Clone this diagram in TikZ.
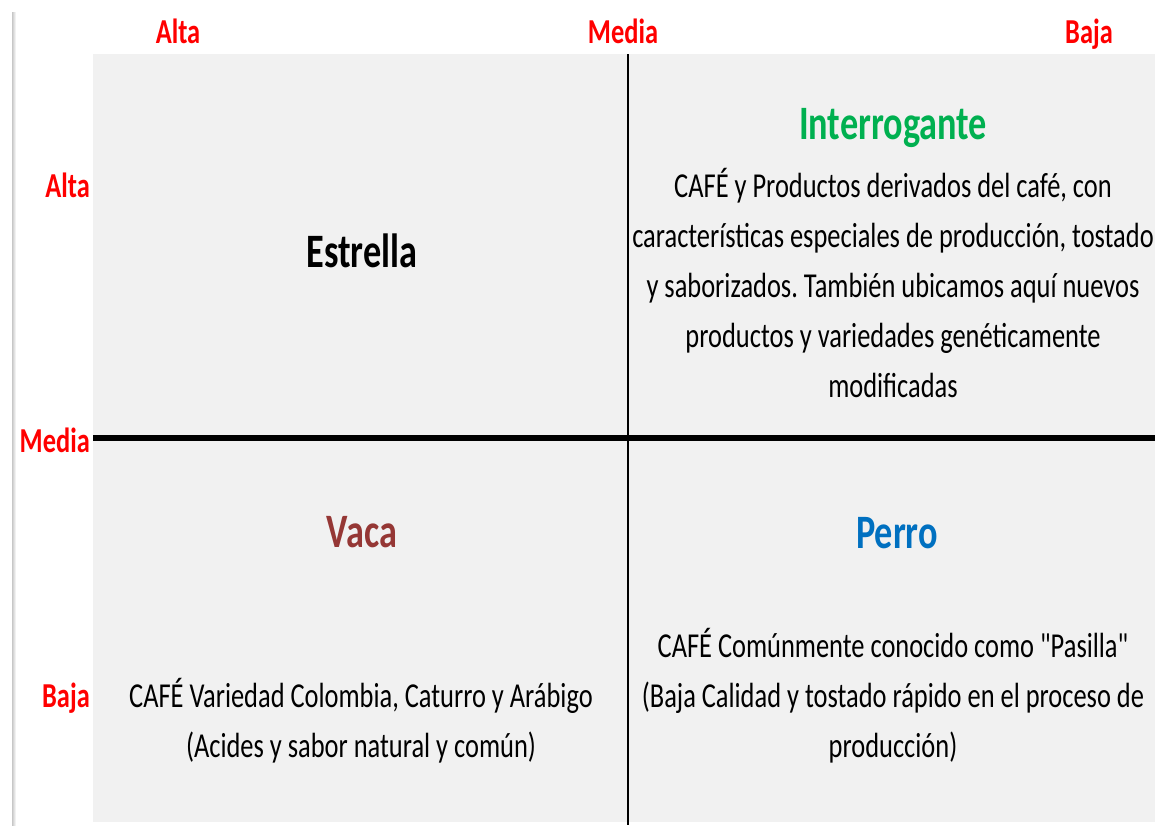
\documentclass[tikz,border=0pt]{standalone}
\usepackage{fontspec}
\setmainfont{Carlito}[FakeStretch=0.755]
\newfontfamily\plainqfont{Carlito}[FakeStretch=0.755]
\newcommand{\straightq}{{\plainqfont"}}
\frenchspacing
\definecolor{boxgray}{HTML}{F1F1F1}
\definecolor{lblred}{HTML}{FF0000}
\definecolor{intgreen}{HTML}{00B050}
\definecolor{vacared}{HTML}{953735}
\definecolor{perroblue}{HTML}{0070C0}
\tikzset{
  axislbl/.style={text=lblred, font=\fontsize{35}{40}\selectfont\bfseries, inner sep=0pt},
  quadtitle/.style={font=\fontsize{48}{55}\selectfont\bfseries, inner sep=0pt, anchor=base},
  bodyline/.style={font=\fontsize{35}{50}\selectfont, inner sep=0pt, anchor=base, text=black},
}
\begin{document}
\begin{tikzpicture}[x=1pt,y=-1pt]
\useasboundingbox (0,0) rectangle (1155,825);
\fill[white] (0,0) rectangle (1155,825);
% left shadow
\shade[left color=black!22, right color=white] (12,12) rectangle (16,825);
% background box
\fill[boxgray] (93,54) rectangle (1155,822);
% axes
\coordinate (vtop) at (628,54);
\coordinate (vbot) at (628,825);
\coordinate (hleft) at (93,438);
\coordinate (hright) at (1155,438);
\draw[line width=2.2pt] (vtop) -- (vbot);
\draw[line width=6pt] (hleft) -- (hright);
% top labels
\node[axislbl, anchor=base] (tAlta) at (178,43) {Alta};
\node[axislbl, anchor=base] (tMedia) at (623,43) {Media};
\node[axislbl, anchor=base] (tBaja) at (1089,43) {Baja};
% left labels
\node[axislbl, anchor=base east] (lAlta) at (90,197) {Alta};
\node[axislbl, anchor=base east] (lMedia) at (90,452) {Media};
\node[axislbl, anchor=base east] (lBaja) at (90,707) {Baja};
% titles
\node[quadtitle, text=black] (estrella) at (362,267) {Estrella};
\node[quadtitle, text=intgreen] (interrogante) at (893,139) {Interrogante};
\node[quadtitle, text=vacared] (vaca) at (362,547) {Vaca};
\node[quadtitle, text=perroblue] (perro) at (897,548) {Perro};
% Interrogante text
\node[bodyline] (i1) at (893,197) {CAFÉ y Productos derivados del café, con};
\node[bodyline] (i2) at (893,247) {características especiales de producción, tostado};
\node[bodyline] (i3) at (893,297) {y saborizados. También ubicamos aquí nuevos};
\node[bodyline] (i4) at (893,347) {productos y variedades genéticamente};
\node[bodyline] (i5) at (893,397) {modificadas};
% Vaca text
\node[bodyline] (v1) at (361,707) {CAFÉ Variedad Colombia, Caturro y Arábigo};
\node[bodyline] (v2) at (361,757) {(Acides y sabor natural y común)};
% Perro text
\node[bodyline] (p1) at (893,657) {CAFÉ Comúnmente conocido como \straightq Pasilla\straightq};
\node[bodyline] (p2) at (893,707) {(Baja Calidad y tostado rápido en el proceso de};
\node[bodyline] (p3) at (893,757) {producción)};
\end{tikzpicture}
\end{document}
